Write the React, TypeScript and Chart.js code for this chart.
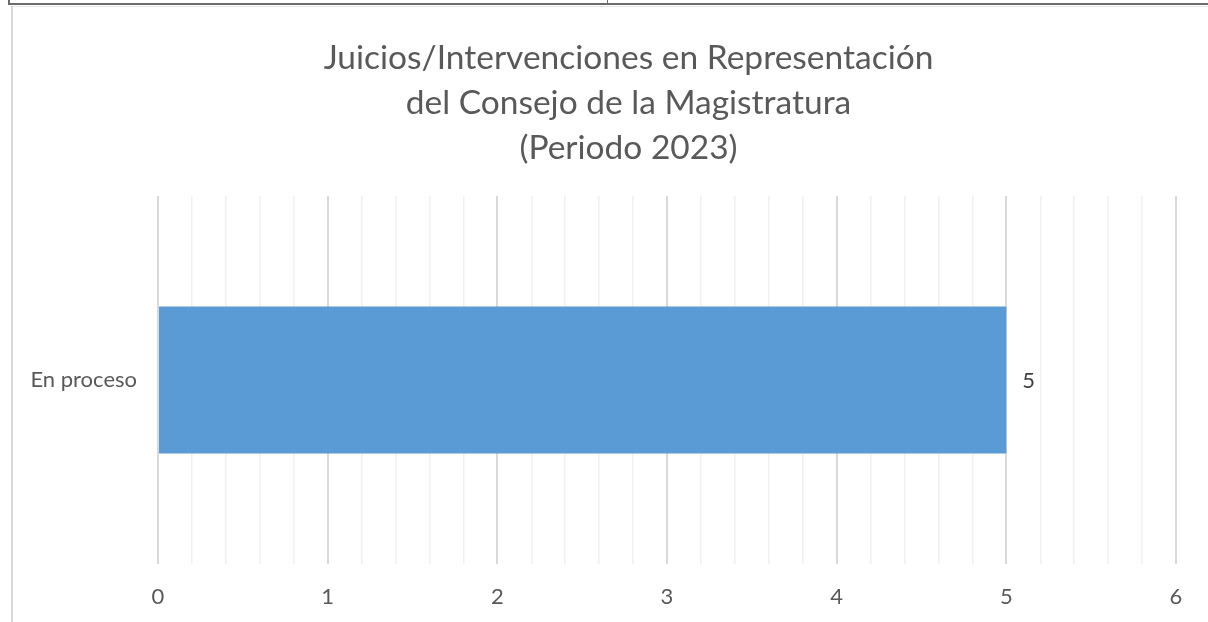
import React, { useEffect, useRef } from "react";
import { Chart, registerables } from "chart.js";

Chart.register(...registerables);

const categories = ["En proceso"];
const values = [5];
const titleLines = [
  "Juicios/Intervenciones en Representación",
  "del Consejo de la Magistratura",
  "(Periodo 2023)",
];
const axisMin = 0;
const axisMax = 6;
const minorStep = 0.2;

const FONT = "Lato, 'Open Sans', sans-serif";
const TEXT = "#595959";

const isMajor = (v: number) => Math.abs(v - Math.round(v)) < 1e-6;

const dataLabelPlugin = {
  id: "dataLabels",
  afterDatasetsDraw(chart: any) {
    const ctx = chart.ctx;
    const meta = chart.getDatasetMeta(0);
    ctx.save();
    ctx.font = `22px ${FONT}`;
    ctx.fillStyle = "#404040";
    ctx.textAlign = "left";
    ctx.textBaseline = "middle";
    meta.data.forEach((el: any, i: number) => {
      ctx.fillText(String(values[i]), el.x + 16, el.y + 1);
    });
    ctx.restore();
  },
};

// Centre the title over the plot region rather than the whole canvas
const titleShiftPlugin = {
  id: "titleShift",
  afterLayout(chart: any) {
    const tb = chart.titleBlock;
    if (tb) {
      tb.left = 81;
      tb.width = tb.right - tb.left;
    }
  },
};

export default function App() {
  const ref = useRef<HTMLCanvasElement | null>(null);

  useEffect(() => {
    if (!ref.current) return;
    const chart = new Chart(ref.current, {
      type: "bar",
      data: {
        labels: categories,
        datasets: [
          {
            data: values,
            backgroundColor: "#5b9bd5",
            borderWidth: 0,
            barPercentage: 0.4,
            categoryPercentage: 1,
          },
        ],
      },
      plugins: [dataLabelPlugin, titleShiftPlugin],
      options: {
        indexAxis: "y",
        animation: false,
        responsive: false,
        maintainAspectRatio: false,
        layout: { padding: { left: 13, right: 32, top: 0, bottom: 0 } },
        plugins: {
          legend: { display: false },
          tooltip: { enabled: false },
          title: {
            display: true,
            text: titleLines,
            color: TEXT,
            font: { family: FONT, size: 33.5, weight: "normal", lineHeight: 45 / 33.5 },
            padding: { top: 36, bottom: 25 },
          },
        },
        scales: {
          x: {
            type: "linear",
            min: axisMin,
            max: axisMax,
            border: { display: false },
            grid: {
              drawTicks: false,
              color: (c: any) => (isMajor(c.tick.value) ? "#d9d9d9" : "#f0f0f0"),
              lineWidth: (c: any) => (isMajor(c.tick.value) ? 2 : 1.5),
            },
            ticks: {
              stepSize: minorStep,
              autoSkip: false,
              maxRotation: 0,
              padding: 20,
              color: TEXT,
              font: { family: FONT, size: 22 },
              callback: (v: any) => (isMajor(Number(v)) ? String(Math.round(Number(v))) : ""),
            },
            afterFit: (s: any) => {
              s.height = 58;
            },
          },
          y: {
            border: { display: false },
            grid: { display: false, drawTicks: false },
            ticks: {
              padding: 21,
              color: TEXT,
              font: { family: FONT, size: 22 },
            },
            afterFit: (s: any) => {
              s.width = 145;
            },
          },
        },
      },
    });
    return () => chart.destroy();
  }, []);

  return (
    <div
      style={{
        position: "fixed",
        left: 0,
        top: 0,
        width: 1208,
        height: 622,
        background: "#ffffff",
        overflow: "hidden",
      }}
    >
      <div style={{ position: "absolute", left: 8, top: 3, width: 1200, height: 2, background: "#6b6b6b" }} />
      <div style={{ position: "absolute", left: 8, top: 0, width: 2, height: 5, background: "#6b6b6b" }} />
      <div style={{ position: "absolute", left: 607, top: 0, width: 1, height: 5, background: "#6b6b6b" }} />
      <div style={{ position: "absolute", left: 12, top: 6, width: 1196, height: 1, background: "#e6e6e6" }} />
      <div style={{ position: "absolute", left: 11, top: 6, width: 2, height: 616, background: "#d9d9d9" }} />
      <canvas ref={ref} width={1208} height={622} style={{ position: "absolute", left: 0, top: 0 }} />
    </div>
  );
}
